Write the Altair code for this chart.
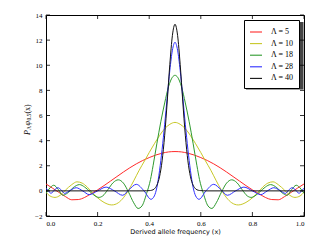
import altair as alt
import pandas as pd

names = ["Λ = 5", "Λ = 10", "Λ = 18", "Λ = 28", "Λ = 40"]
colors = ["#ff2a2a", "#c8c828", "#2e9a2e", "#2e2eff", "#111111"]

red_x = [0, 0.025, 0.05, 0.075, 0.1, 0.125, 0.15, 0.175, 0.2, 0.225, 0.25, 0.275, 0.3, 0.325, 0.35, 0.375, 0.4, 0.425, 0.45, 0.475, 0.5,
         0.525, 0.55, 0.575, 0.6, 0.625, 0.65, 0.675, 0.7, 0.725, 0.75, 0.775, 0.8, 0.825, 0.85, 0.875, 0.9, 0.925, 0.95, 0.975, 1.0]
red_y = [0.55, 0.22, -0.12, -0.45, -0.71, -0.69, -0.52, -0.22, 0.08, 0.42, 0.78, 1.14, 1.50, 1.84, 2.15, 2.42, 2.65, 2.85, 3.00, 3.10, 3.13,
         3.10, 3.00, 2.85, 2.65, 2.42, 2.15, 1.84, 1.50, 1.14, 0.78, 0.42, 0.08, -0.22, -0.52, -0.69, -0.71, -0.45, -0.12, 0.22, 0.55]

yel_x = [0, 0.015, 0.035, 0.055, 0.075, 0.1, 0.12, 0.14, 0.16, 0.18, 0.2, 0.225, 0.255, 0.28, 0.3, 0.32, 0.34, 0.36, 0.384, 0.4, 0.42, 0.44, 0.46, 0.48, 0.5,
         0.52, 0.54, 0.56, 0.58, 0.6, 0.616, 0.64, 0.66, 0.68, 0.7, 0.72, 0.745, 0.775, 0.8, 0.82, 0.84, 0.86, 0.88, 0.9, 0.925, 0.945, 0.965, 0.985, 1.0]
yel_y = [-0.10, -0.40, -0.52, -0.35, 0.05, 0.50, 0.72, 0.62, 0.30, -0.15, -0.55, -0.92, -1.12, -0.95, -0.55, 0.05, 0.80, 1.60, 2.46, 3.05, 3.75, 4.40, 4.95, 5.30, 5.45,
         5.30, 4.95, 4.40, 3.75, 3.05, 2.46, 1.60, 0.80, 0.05, -0.55, -0.95, -1.12, -0.92, -0.55, -0.15, 0.30, 0.62, 0.72, 0.50, 0.05, -0.35, -0.52, -0.40, -0.10]

grn_x = [0, 0.012, 0.03, 0.048, 0.065, 0.085, 0.105, 0.13, 0.15, 0.17, 0.19, 0.205, 0.22, 0.24, 0.26, 0.28, 0.3, 0.32, 0.34, 0.357, 0.372, 0.39, 0.405, 0.415, 0.43, 0.445, 0.46, 0.475, 0.49, 0.5,
         0.51, 0.525, 0.54, 0.555, 0.57, 0.585, 0.595, 0.61, 0.628, 0.643, 0.66, 0.68, 0.7, 0.72, 0.74, 0.76, 0.78, 0.795, 0.81, 0.83, 0.85, 0.87, 0.895, 0.915, 0.935, 0.952, 0.97, 0.988, 1.0]
grn_y = [-0.20, 0.15, 0.45, 0.10, -0.35, -0.15, 0.25, 0.50, 0.30, -0.05, -0.40, -0.52, -0.40, 0.10, 0.65, 0.88, 0.62, -0.10, -0.95, -1.40, -1.20, -0.20, 0.90, 2.00, 3.80, 5.50, 7.00, 8.30, 9.05, 9.20,
         9.05, 8.30, 7.00, 5.50, 3.80, 2.00, 0.90, -0.20, -1.20, -1.40, -0.95, -0.10, 0.62, 0.88, 0.65, 0.10, -0.40, -0.52, -0.40, -0.05, 0.30, 0.50, 0.25, -0.15, -0.35, 0.10, 0.45, 0.15, -0.20]

blu_x = [0, 0.01, 0.019, 0.032, 0.046, 0.06, 0.072, 0.095, 0.117, 0.142, 0.168, 0.2, 0.233, 0.265, 0.297, 0.322, 0.35, 0.38, 0.407, 0.42, 0.43, 0.44, 0.45, 0.46, 0.47, 0.48, 0.49, 0.5,
         0.51, 0.52, 0.53, 0.54, 0.55, 0.56, 0.57, 0.58, 0.593, 0.62, 0.65, 0.678, 0.703, 0.735, 0.767, 0.8, 0.832, 0.858, 0.883, 0.905, 0.928, 0.94, 0.954, 0.968, 0.981, 0.99, 1.0]
blu_y = [0.20, 0.00, -0.20, 0.05, 0.25, 0.05, -0.20, 0.05, 0.25, 0.00, -0.30, 0.00, 0.30, 0.00, -0.35, 0.10, 0.52, 0.00, -0.67, -0.40, 0.30, 1.60, 3.30, 5.30, 7.50, 9.60, 11.20, 11.83,
         11.20, 9.60, 7.50, 5.30, 3.30, 1.60, 0.30, -0.40, -0.67, 0.00, 0.52, 0.10, -0.35, 0.00, 0.30, 0.00, -0.30, 0.00, 0.25, 0.05, -0.20, 0.05, 0.25, 0.05, -0.20, 0.00, 0.20]

blk_x = [0, 0.38, 0.39, 0.40, 0.41, 0.42, 0.43, 0.44, 0.45, 0.46, 0.47, 0.48, 0.49, 0.5,
         0.51, 0.52, 0.53, 0.54, 0.55, 0.56, 0.57, 0.58, 0.59, 0.60, 0.61, 0.62, 1.0]
blk_y = [0, 0, 0.01, 0.02, 0.05, 0.16, 0.46, 1.12, 2.39, 4.43, 7.15, 10.08, 12.38, 13.26,
         12.38, 10.08, 7.15, 4.43, 2.39, 1.12, 0.46, 0.16, 0.05, 0.02, 0.01, 0, 0]

x_ticks = [0.0, 0.2, 0.4, 0.6, 0.8, 1.0]
y_ticks = [-2, 0, 2, 4, 6, 8, 10, 12, 14]

W, H = 258, 201
TICKFONT = "Liberation Serif"

xs = alt.Scale(domain=[0, 1], nice=False, zero=False)
ys = alt.Scale(domain=[-2, 14], nice=False, zero=False)

x_axis = alt.Axis(values=x_ticks, format=".1f", title="Derived allele frequency (x)",
                  titleFont="DejaVu Sans", titleFontSize=6.5, titleFontWeight="normal",
                  titlePadding=2, labelFont=TICKFONT, labelFontSize=7, labelPadding=3,
                  ticks=False, domain=False, grid=False, labelColor="black", titleColor="black")
y_axis = alt.Axis(values=y_ticks, format="d", title=None, labelFont=TICKFONT, labelFontSize=7,
                  labelPadding=4, ticks=False, domain=False, grid=False, labelColor="black")

legend = alt.Legend(orient="none", legendX=198, legendY=5, title=None, symbolType="stroke",
                    symbolStrokeWidth=1.1, symbolSize=144, labelFont=TICKFONT, labelFontSize=8,
                    labelOffset=8, padding=5, rowPadding=0.6, strokeColor="black", fillColor="white",
                    cornerRadius=0, labelColor="black")

color = alt.Color("series:N", scale=alt.Scale(domain=names, range=colors), legend=legend)


def line_layer(xv, yv, name):
    df = pd.DataFrame({"x": xv, "y": yv, "series": name})
    return alt.Chart(df).mark_line(interpolate="monotone", strokeWidth=1, clip=True).encode(
        x=alt.X("x:Q", scale=xs, axis=x_axis),
        y=alt.Y("y:Q", scale=ys, axis=y_axis),
        color=color,
    )


shadow = alt.Chart(pd.DataFrame({"a": [0]})).mark_rect(color="#444444").encode(
    x=alt.value(200), x2=alt.value(257.5), y=alt.value(7), y2=alt.value(74.5))

xt = pd.DataFrame({"t": x_ticks})
yt = pd.DataFrame({"t": y_ticks})
tick_style = dict(color="black", strokeWidth=0.8)
xb = alt.Chart(xt).mark_rule(**tick_style).encode(x=alt.X("t:Q", scale=xs, axis=x_axis), y=alt.value(H), y2=alt.value(H - 4))
xtp = alt.Chart(xt).mark_rule(**tick_style).encode(x=alt.X("t:Q", scale=xs, axis=x_axis), y=alt.value(0), y2=alt.value(4))
yl = alt.Chart(yt).mark_rule(**tick_style).encode(y=alt.Y("t:Q", scale=ys, axis=y_axis), x=alt.value(0), x2=alt.value(4))
yr = alt.Chart(yt).mark_rule(**tick_style).encode(y=alt.Y("t:Q", scale=ys, axis=y_axis), x=alt.value(W), x2=alt.value(W - 4))

# y-axis title pieces: P_Λ φ_0.5 (x)
ypieces = [("P", 8, -16.5, 120), ("Λ", 5.5, -14.8, 115), ("φ", 8, -16.5, 110.6),
           ("0.5", 5.5, -14.8, 105.6), ("(x)", 8, -16.5, 98.6)]
ytitle = []
for txt, fs, px, py in ypieces:
    ytitle.append(alt.Chart(pd.DataFrame({"label": [txt]})).mark_text(
        angle=270, align="left", baseline="alphabetic", font=TICKFONT, fontSize=fs,
        fontStyle="italic" if txt in ("P", "φ") else "normal", color="black").encode(
        text="label:N", x=alt.value(px), y=alt.value(py)))

chart = alt.layer(
    shadow,
    line_layer(red_x, red_y, names[0]),
    line_layer(yel_x, yel_y, names[1]),
    line_layer(grn_x, grn_y, names[2]),
    line_layer(blu_x, blu_y, names[3]),
    line_layer(blk_x, blk_y, names[4]),
    xb, xtp, yl, yr, *ytitle,
).properties(
    width=W, height=H,
    autosize=alt.AutoSizeParams(type="none"),
    padding={"left": 38, "top": 7, "right": 20, "bottom": 26},
).configure_view(stroke="black", strokeWidth=1).configure_legend(strokeWidth=1)

chart.save("out.html", embed_options={"renderer": "svg", "actions": False})
